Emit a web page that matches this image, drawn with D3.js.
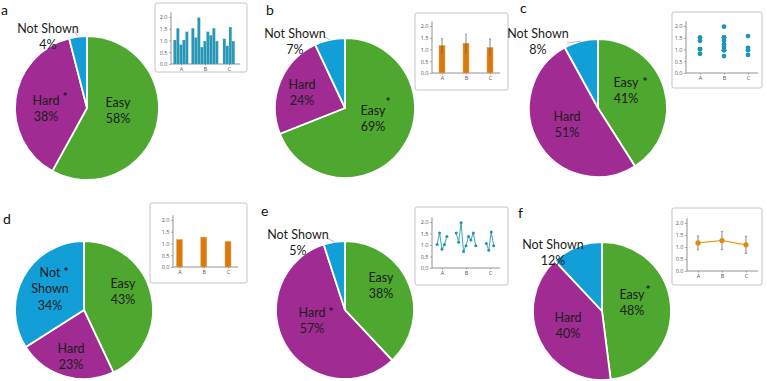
<!DOCTYPE html>
<html><head><meta charset="utf-8">
<script src="https://cdn.jsdelivr.net/npm/d3@7"></script>
<style>body{margin:0;background:#fff}svg{display:block}</style>
</head><body><svg id="chart" width="767" height="381"></svg>
<script>
// ---------- data ----------
const panelLetters = ['a','b','c','d','e','f'];
const categories = ['Easy','Hard','Not Shown'];
const easyPct = [58,69,41,43,38,48];
const hardPct = [38,24,51,23,57,40];
const notShownPct = [4,7,8,34,5,12];
const starred = ['Hard','Easy','Easy','Not Shown','Hard','Easy'];
const groups = ['A','B','C'];
const groupA = [1.02,1.52,0.82,1.02,1.37];
const groupB = [1.52,1.12,1.97,0.72,0.97,1.37,1.22,1.52,0.97];
const groupC = [1.07,0.77,1.57,0.97];
const groupMeans = [1.17,1.27,1.09];
const groupErr = [0.29,0.38,0.36];
const yTicks = [0,0.5,1.0,1.5,2.0];
const insetKinds = ['bars','meanErr','dots','means','lines','meanLine'];

// ---------- layout ----------
const colors = {'Easy':'#4EA72E','Hard':'#A02B93','Not Shown':'#129ED6'};
const layout = [
 {cx:87,cy:108,r:72,letter:[1,15],
  lab:{'Easy':[[118,102],['Easy','58%']],'Hard':[[46,100],['Hard','38%']],'Not Shown':[[48,28],['Not Shown','4%']]},
  star:[65,96],leader:[75,32],
  inset:{x:155,y:3,w:92,h:69,x0:171,x1:240,y0:64,y2:17,gA:181,gC:229}},
 {cx:345,cy:108,r:70,letter:[266,15],
  lab:{'Easy':[[373,110],['Easy','69%']],'Hard':[[302,84],['Hard','24%']],'Not Shown':[[295,33],['Not Shown','7%']]},
  star:[388,101],leader:[325,37],
  inset:{x:415,y:13,w:93,h:77,x0:432,x1:500,y0:73,y2:26,gA:442,gC:490}},
 {cx:598,cy:108,r:69,letter:[520,13],
  lab:{'Easy':[[626,82],['Easy','41%']],'Hard':[[567,116],['Hard','51%']],'Not Shown':[[538,33],['Not Shown','8%']]},
  star:[645,81],leader:[567,43],
  inset:{x:672,y:12,w:90,h:76,x0:686,x1:758,y0:73,y2:26,gA:700,gC:748}},
 {cx:84,cy:310,r:69,letter:[3,224],
  lab:{'Easy':[[123,283],['Easy','43%']],'Hard':[[71,348],['Hard','23%']],'Not Shown':[[50,272],['Not','Shown','34%']]},
  star:[66,271],leader:null,
  inset:{x:150,y:203,w:97,h:80,x0:173,x1:238,y0:267,y2:220,gA:179.5,gC:228}},
 {cx:345,cy:310,r:69,letter:[261,216],
  lab:{'Easy':[[381,277],['Easy','38%']],'Hard':[[312,312],['Hard','57%']],'Not Shown':[[298,234],['Not Shown','5%']]},
  star:[331,311],leader:[327,238],
  inset:{x:415,y:207,w:93,h:78,x0:432,x1:500,y0:268,y2:222,gA:442,gC:490}},
 {cx:602,cy:311,r:69,letter:[518,218],
  lab:{'Easy':[[632,294],['Easy','48%']],'Hard':[[568,317],['Hard','40%']],'Not Shown':[[553,244],['Not Shown','12%']]},
  star:[648,289],leader:null,
  inset:{x:672,y:208,w:90,h:77,x0:687,x1:758,y0:271,y2:223,gA:698,gC:746}}
];

const svg = d3.select('#chart');
const FONT = 'Lato, "Open Sans", sans-serif';
const groupVals = [groupA, groupB, groupC];

panelLetters.forEach((letter, p) => {
  const L = layout[p];
  const g = svg.append('g');
  const vals = [easyPct[p], hardPct[p], notShownPct[p]];
  const data = categories.map((c,i)=>({cat:c, v:vals[i]}));
  const pie = d3.pie().value(d=>d.v).sort(null);
  const arcs = pie(data);
  const arc = d3.arc().innerRadius(0).outerRadius(L.r);
  g.selectAll('path.slice').data(arcs).join('path')
    .attr('class','slice')
    .attr('transform',`translate(${L.cx},${L.cy})`)
    .attr('d',arc)
    .attr('fill',d=>colors[d.data.cat])
    .attr('stroke','#fff').attr('stroke-width',1.8);

  if (L.leader) {
    const ns = arcs[2];
    const rim = d3.arc().innerRadius(L.r).outerRadius(L.r);
    const c = rim.centroid(ns);
    g.append('line')
      .attr('x1',L.leader[0]).attr('y1',L.leader[1])
      .attr('x2',L.cx+c[0]).attr('y2',L.cy+c[1])
      .attr('stroke','#a6a6a6').attr('stroke-width',0.8);
  }

  categories.forEach(cat => {
    const [pos, lines] = L.lab[cat];
    lines.forEach((t,k)=>{
      g.append('text').attr('x',pos[0]).attr('y',pos[1]+k*16.5)
        .attr('text-anchor','middle').attr('dominant-baseline','central')
        .attr('font-family',FONT).attr('font-size',12.5).attr('fill','#1c1c1c')
        .text(t);
    });
  });
  g.append('text').attr('x',L.star[0]).attr('y',L.star[1]).attr('text-anchor','middle')
    .attr('dominant-baseline','central')
    .attr('font-family',FONT).attr('font-size',12).attr('font-weight','bold').attr('fill','#1c1c1c').text('*');

  g.append('text').attr('x',L.letter[0]).attr('y',L.letter[1])
    .attr('font-family',FONT).attr('font-size',14).attr('fill','#111').text(letter);

  drawInset(g, L.inset, insetKinds[p]);
});

function drawInset(g, I, kind) {
  const ig = g.append('g');
  ig.append('rect').attr('x',I.x).attr('y',I.y).attr('width',I.w).attr('height',I.h)
    .attr('rx',2).attr('fill','#fff').attr('stroke','#bdbdbd').attr('stroke-width',0.9);
  const y = d3.scaleLinear().domain([0,2]).range([I.y0, I.y2]);
  const xg = d3.scalePoint().domain(groups).range([I.gA, I.gC]);
  const ya = d3.axisLeft(y).tickValues(yTicks).tickFormat(d3.format('.1f')).tickSize(2).tickSizeOuter(0).tickPadding(1.5);
  const yG = ig.append('g').attr('transform',`translate(${I.x0},0)`).call(ya);
  yG.select('.domain').attr('d',`M0,${y(0)}V${y(2.2)}`).attr('stroke','#777').attr('stroke-width',0.8);
  yG.selectAll('.tick line').attr('stroke','#777').attr('stroke-width',0.6);
  yG.selectAll('text').attr('font-family','"Open Sans", sans-serif').attr('font-size',5.5).attr('fill','#555');
  const xG = ig.append('g').attr('transform',`translate(0,${I.y0})`)
    .call(d3.axisBottom(xg).tickSize(1.5).tickPadding(2));
  xG.select('.domain').remove();
  xG.selectAll('.tick line').attr('stroke','#777').attr('stroke-width',0.6);
  xG.selectAll('text').attr('font-family','"Open Sans", sans-serif').attr('font-size',5.5).attr('fill','#555');
  ig.append('line').attr('x1',I.x0).attr('x2',I.x1).attr('y1',I.y0).attr('y2',I.y0)
    .attr('stroke','#777').attr('stroke-width',0.8);

  const teal = '#2A97B5', orange = '#D97A0E';
  if (kind === 'bars') {
    const step = 3;
    groupVals.forEach((vs,gi)=>{
      const c = xg(groups[gi]);
      ig.selectAll(null).data(vs).join('rect')
        .attr('x',(d,i)=>c+(i-(vs.length-1)/2)*step - step/2)
        .attr('width',step-0.3)
        .attr('y',d=>y(d)).attr('height',d=>y(0)-y(d))
        .attr('fill',teal).attr('stroke','#5cb6cc').attr('stroke-width',0.2);
    });
  } else if (kind === 'dots') {
    groupVals.forEach((vs,gi)=>{
      ig.selectAll(null).data(vs).join('circle')
        .attr('cx',xg(groups[gi])).attr('cy',d=>y(d)).attr('r',2.4).attr('fill','#1E95B5');
    });
  } else if (kind === 'lines') {
    const step = 2.45;
    groupVals.forEach((vs,gi)=>{
      const c = xg(groups[gi]);
      const px = (d,i)=>c+(i-(vs.length-1)/2)*step;
      ig.append('path').datum(vs)
        .attr('d',d3.line().x(px).y(d=>y(d)))
        .attr('fill','none').attr('stroke',teal).attr('stroke-width',0.9);
      ig.selectAll(null).data(vs).join('circle')
        .attr('cx',px).attr('cy',d=>y(d)).attr('r',1.5).attr('fill','#1E95B5');
    });
  } else if (kind === 'meanErr' || kind === 'means') {
    const bw = 6;
    ig.selectAll(null).data(groupMeans).join('rect')
      .attr('x',(d,i)=>xg(groups[i])-bw/2).attr('width',bw)
      .attr('y',d=>y(d)).attr('height',d=>y(0)-y(d))
      .attr('fill',orange).attr('stroke','#EFA85A').attr('stroke-width',0.5);
    if (kind === 'meanErr') {
      groupMeans.forEach((m,i)=>{
        const cx = xg(groups[i]);
        ig.append('line').attr('x1',cx).attr('x2',cx).attr('y1',y(m+groupErr[i])).attr('y2',y(m-groupErr[i]))
          .attr('stroke','#6a6a6a').attr('stroke-width',0.8);
        [m+groupErr[i], m-groupErr[i]].forEach(v=>{
          ig.append('line').attr('x1',cx-1).attr('x2',cx+1).attr('y1',y(v)).attr('y2',y(v))
            .attr('stroke','#6a6a6a').attr('stroke-width',0.6);
        });
      });
    }
  } else if (kind === 'meanLine') {
    groupMeans.forEach((m,i)=>{
      const cx = xg(groups[i]);
      ig.append('line').attr('x1',cx).attr('x2',cx).attr('y1',y(m+groupErr[i])).attr('y2',y(m-groupErr[i]))
        .attr('stroke','#6a6a6a').attr('stroke-width',0.8);
      [m+groupErr[i], m-groupErr[i]].forEach(v=>{
        ig.append('line').attr('x1',cx-1.2).attr('x2',cx+1.2).attr('y1',y(v)).attr('y2',y(v))
          .attr('stroke','#6a6a6a').attr('stroke-width',0.6);
      });
    });
    ig.append('path').datum(groupMeans)
      .attr('d',d3.line().x((d,i)=>xg(groups[i])).y(d=>y(d)))
      .attr('fill','none').attr('stroke','#E8960F').attr('stroke-width',1.1);
    ig.selectAll(null).data(groupMeans).join('circle')
      .attr('cx',(d,i)=>xg(groups[i])).attr('cy',d=>y(d)).attr('r',2.6).attr('fill','#E08A0A');
  }
}
</script></body></html>
